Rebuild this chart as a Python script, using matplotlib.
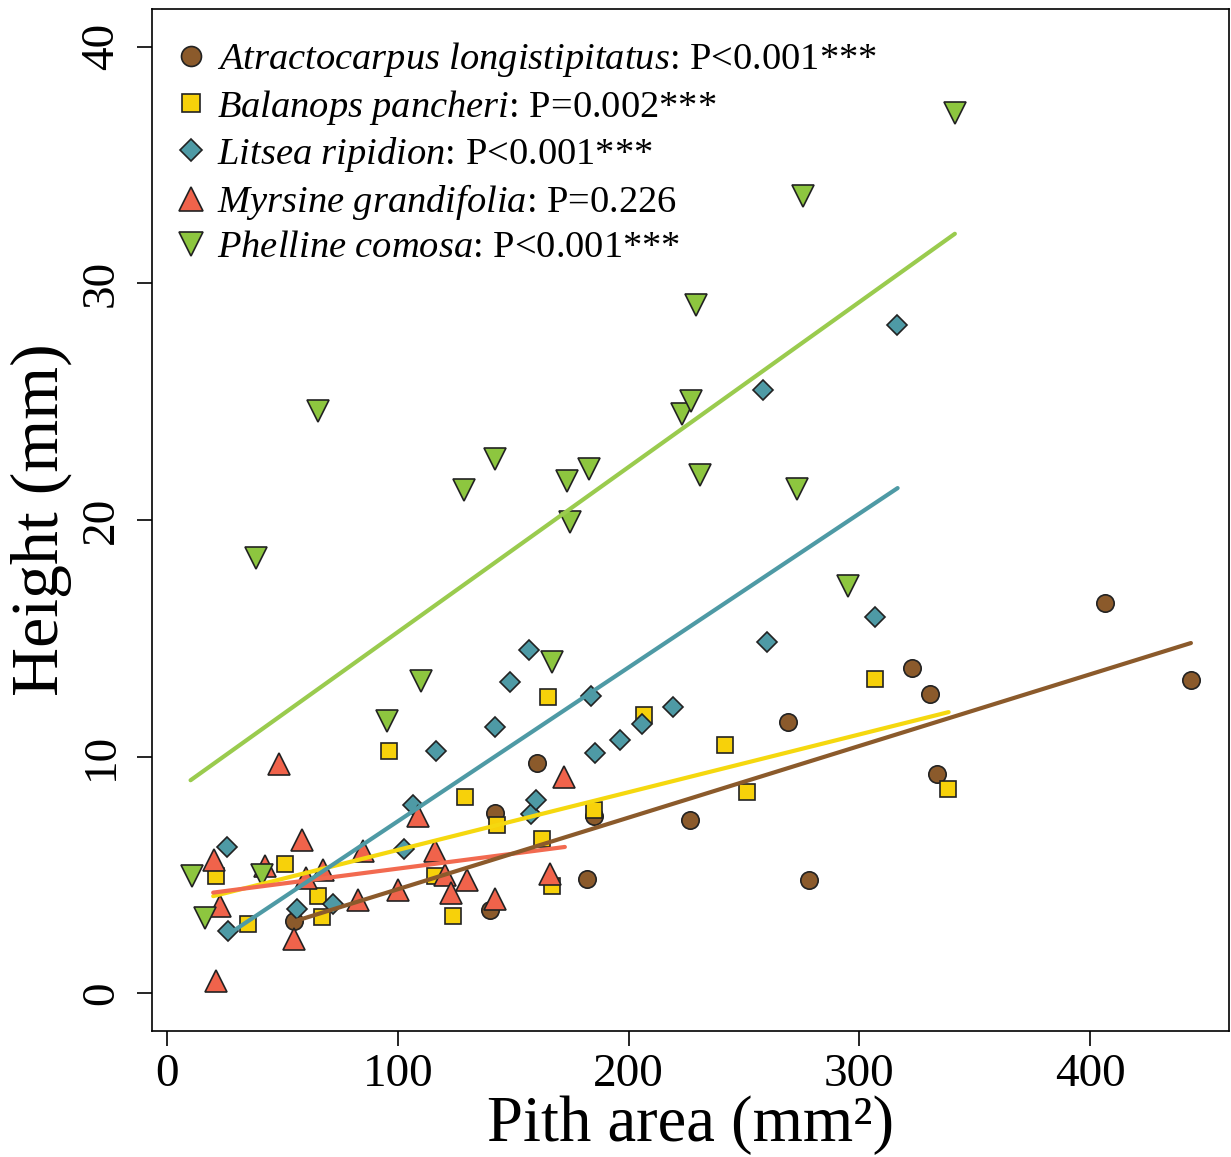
import matplotlib
matplotlib.use("Agg")
import matplotlib.pyplot as plt

plt.rcParams['font.family'] = ['Liberation Serif', 'DejaVu Serif']
plt.rcParams['mathtext.fontset'] = 'custom'
plt.rcParams['mathtext.rm'] = 'Liberation Serif'
plt.rcParams['mathtext.it'] = 'Liberation Serif:italic'

# ---- data: pith area (mm2) vs height (mm) ----
atr_x = [55.0, 140.0, 142.1, 160.3, 182.1, 184.9, 226.8, 268.9, 278.2, 322.7, 330.8, 333.6, 406.6, 443.7]
atr_y = [3.03, 3.53, 7.62, 9.73, 4.83, 7.50, 7.33, 11.45, 4.80, 13.74, 12.65, 9.26, 16.49, 13.22]

bal_x = [21.1, 35.2, 51.1, 65.3, 67.0, 96.3, 116.1, 124.1, 129.1, 143.0, 162.4, 164.9, 166.7, 184.9,
         206.5, 241.9, 251.4, 306.9, 338.4]
bal_y = [4.94, 2.92, 5.46, 4.12, 3.20, 10.22, 4.94, 3.25, 8.29, 7.11, 6.52, 12.50, 4.51, 7.76,
         11.77, 10.47, 8.52, 13.30, 8.63]

lit_x = [26.1, 26.6, 56.2, 71.8, 102.8, 106.4, 116.5, 142.1, 148.6, 157.0, 157.7, 159.7, 183.6, 185.6,
         196.4, 205.9, 219.1, 258.4, 260.0, 306.8, 316.2]
lit_y = [6.18, 2.64, 3.56, 3.77, 6.09, 7.94, 10.25, 11.23, 13.15, 14.49, 7.57, 8.18, 12.55, 10.15,
         10.71, 11.39, 12.08, 25.50, 14.83, 15.90, 28.25]

myr_x = [20.4, 21.1, 22.9, 42.5, 48.7, 54.9, 58.6, 60.1, 67.7, 82.6, 85.0, 100.2, 108.9, 116.0,
         120.5, 123.0, 129.8, 142.1, 165.9, 172.0]
myr_y = [5.64, 0.52, 3.67, 5.39, 9.70, 2.29, 6.49, 4.87, 5.22, 3.93, 5.99, 4.36, 7.50, 6.00,
         5.00, 4.25, 4.80, 4.00, 5.03, 9.15]

phe_x = [10.7, 16.5, 38.7, 41.3, 65.6, 95.3, 110.1, 128.6, 142.0, 166.7, 173.3, 174.5, 182.9, 223.1,
         226.9, 229.3, 231.0, 272.8, 275.7, 295.1, 341.4]
phe_y = [4.94, 3.18, 18.40, 5.00, 24.60, 11.50, 13.20, 21.25, 22.60, 13.98, 21.66, 19.90, 22.15, 24.50,
         25.05, 29.10, 21.90, 21.30, 33.70, 17.20, 37.20]

# fitted lines (end points)
atr_fit_x, atr_fit_y = [55.0, 443.7], [3.03, 14.80]
bal_fit_x, bal_fit_y = [20.0, 338.7], [4.10, 11.88]
lit_fit_x, lit_fit_y = [29.5, 316.6], [2.68, 21.35]
myr_fit_x, myr_fit_y = [20.0, 172.4], [4.25, 6.18]
phe_fit_x, phe_fit_y = [10.2, 341.4], [9.00, 32.10]

labels = [
    r'$\mathit{Atractocarpus\ longistipitatus}$: P<0.001***',
    r'$\mathit{Balanops\ pancheri}$: P=0.002***',
    r'$\mathit{Litsea\ ripidion}$: P<0.001***',
    r'$\mathit{Myrsine\ grandifolia}$: P=0.226',
    r'$\mathit{Phelline\ comosa}$: P<0.001***',
]

fig = plt.figure(figsize=(12.31, 11.57), dpi=100)
ax = fig.add_axes([0.1235, 0.1089, 0.8745, 0.8833])

c_atr, c_bal, c_lit, c_myr, c_phe = '#8B5A2B', '#F7D10A', '#4E9AA5', '#F0634B', '#8DC63F'

ax.plot(atr_x, atr_y, 'o', ms=12.5, mfc=c_atr, mec='#222222', mew=1.2, ls='none', label=labels[0])
ax.plot(bal_x, bal_y, 's', ms=11, mfc=c_bal, mec='#222222', mew=1.2, ls='none', label=labels[1])
ax.plot(lit_x, lit_y, 'D', ms=10, mfc=c_lit, mec='#222222', mew=1.2, ls='none', label=labels[2])
ax.plot(myr_x, myr_y, '^', ms=15.5, mfc=c_myr, mec='#222222', mew=1.2, ls='none', label=labels[3])
ax.plot(phe_x, phe_y, 'v', ms=15.5, mfc=c_phe, mec='#222222', mew=1.2, ls='none', label=labels[4])

ax.plot(bal_fit_x, bal_fit_y, color='#F5D80F', lw=3, solid_capstyle='round')
ax.plot(myr_fit_x, myr_fit_y, color='#F26A50', lw=3, solid_capstyle='round')
ax.plot(atr_fit_x, atr_fit_y, color='#8B5A2B', lw=3, solid_capstyle='round')
ax.plot(lit_fit_x, lit_fit_y, color='#4E9AA5', lw=3, solid_capstyle='round')
ax.plot(phe_fit_x, phe_fit_y, color='#9ACB4E', lw=3, solid_capstyle='round')

ax.set_xlim(-6.5, 460)
ax.set_ylim(-1.6, 41.6)
ax.set_xticks([0, 100, 200, 300, 400])
ax.set_yticks([0, 10, 20, 30, 40])
ax.tick_params(direction='out', length=11, width=1.2, labelsize=34, pad=5)
ax.tick_params(axis='y', labelrotation=90, pad=10)
for lab in ax.get_yticklabels():
    lab.set_va('center')
for s in ax.spines.values():
    s.set_linewidth(1.2)

ax.set_xlabel('Pith area (mm²)', fontsize=46.5, labelpad=0)
ax.set_ylabel('Height (mm)', fontsize=49, labelpad=6)

ax.legend(loc='upper left', bbox_to_anchor=(0.0, 0.99), frameon=False, fontsize=27.7,
          handletextpad=0.25, labelspacing=0.215, borderaxespad=0.0, borderpad=0.55,
          handlelength=0.9, markerscale=1.15)

fig.savefig('out.png', dpi=100)
